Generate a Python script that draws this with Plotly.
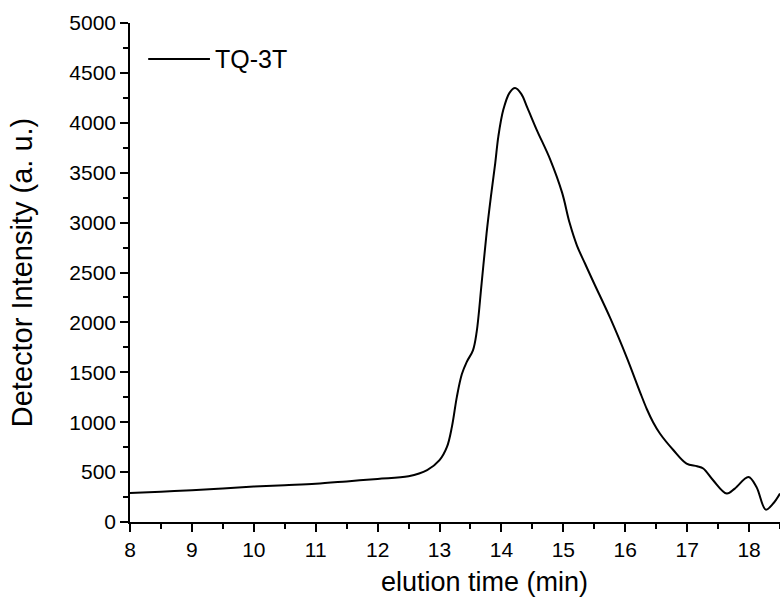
import plotly.graph_objects as go

series_name = "TQ-3T"
elution_time = [8.0, 8.5, 9.0, 9.5, 10.0, 10.5, 11.0, 11.5, 12.0, 12.5, 12.8, 13.0, 13.12, 13.2,
                13.28, 13.36, 13.44, 13.54, 13.6, 13.68, 13.76, 13.83, 13.9, 13.95, 14.03, 14.13,
                14.22, 14.32, 14.42, 14.57, 14.79, 14.98, 15.1, 15.22, 15.35, 15.49, 15.76, 16.03,
                16.24, 16.35, 16.45, 16.56, 16.78, 16.99, 17.16, 17.26, 17.42, 17.64, 17.77, 17.99,
                18.12, 18.27, 18.39, 18.5]
intensity = [291, 304, 318, 336, 355, 369, 383, 407, 432, 458, 519, 619, 752, 953,
             1254, 1480, 1605, 1720, 1905, 2392, 2893, 3260, 3596, 3862, 4130, 4300,
             4348, 4290, 4150, 3930, 3629, 3300, 3000, 2770, 2590, 2400, 2040, 1640,
             1300, 1130, 1000, 887, 719, 586, 559, 536, 418, 285, 335, 452,
             351, 124, 185, 285]

x_ticks = [8, 9, 10, 11, 12, 13, 14, 15, 16, 17, 18]
y_ticks = [0, 500, 1000, 1500, 2000, 2500, 3000, 3500, 4000, 4500, 5000]

FONT = "Arial, Liberation Sans, sans-serif"

fig = go.Figure()
fig.add_trace(go.Scatter(
    x=elution_time, y=intensity, mode="lines", name=series_name,
    line=dict(color="black", width=2, shape="spline", smoothing=1.0),
    showlegend=False,
))

axis_common = dict(
    showgrid=False, zeroline=False, showline=True, linecolor="black", linewidth=1.5,
    ticks="outside", ticklen=8, tickwidth=1.5, tickcolor="black",
    tickfont=dict(family=FONT, size=21, color="black"),
)

fig.update_xaxes(
    range=[8, 18.5], tickvals=x_ticks,
    minor=dict(ticks="outside", ticklen=5, tickwidth=1.5, tickcolor="black", dtick=0.5, tick0=8),
    **axis_common,
)
fig.update_yaxes(
    range=[0, 5000], tickvals=y_ticks,
    minor=dict(ticks="outside", ticklen=5, tickwidth=1.5, tickcolor="black", dtick=250, tick0=0),
    title=dict(text="Detector Intensity (a. u.)", font=dict(family=FONT, size=29, color="black"), standoff=28),
    **axis_common,
)

# x-axis title (offset to the right, as in the reference)
fig.add_annotation(xref="paper", yref="paper", x=0.546, y=-0.12, text="elution time (min)",
                   showarrow=False, xanchor="center", yanchor="middle",
                   font=dict(family=FONT, size=27, color="black"))

# legend sample (drawn in paper coordinates)
fig.add_shape(type="line", xref="paper", yref="paper", x0=0.028, x1=0.123, y0=0.928, y1=0.928,
              line=dict(color="black", width=2))
fig.add_annotation(xref="paper", yref="paper", x=0.128, y=0.928, text=series_name,
                   showarrow=False, xanchor="left", yanchor="middle",
                   font=dict(family=FONT, size=25, color="black"))

fig.update_layout(
    width=780, height=602,
    margin=dict(l=130, r=0, t=23, b=80),
    paper_bgcolor="white", plot_bgcolor="white",
    font=dict(family=FONT, color="black"),
)

fig.write_html("out.html")
